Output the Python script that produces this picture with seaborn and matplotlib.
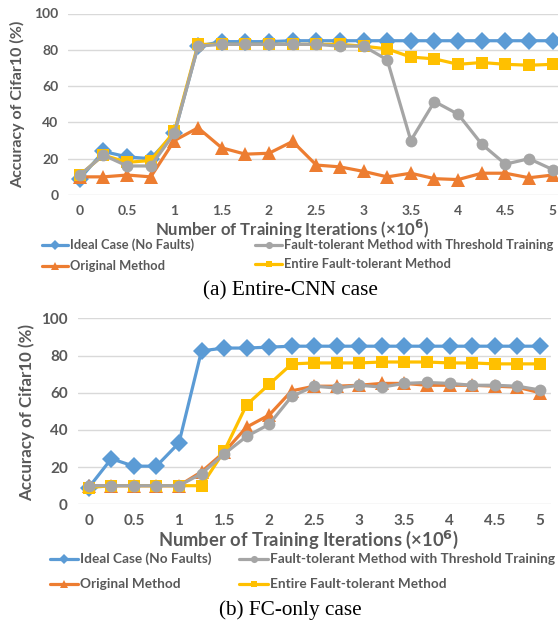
"""
Accuracy of Cifar10 vs training iterations, two fault cases.
"""

import numpy as np
import pandas as pd
import matplotlib
matplotlib.use("Agg")
import matplotlib.pyplot as plt
from matplotlib.lines import Line2D
import seaborn as sns

# Iterations (x10^6)
iterations = [0, 0.25, 0.5, 0.75, 1, 1.25, 1.5, 1.75, 2, 2.25, 2.5,
              2.75, 3, 3.25, 3.5, 3.75, 4, 4.25, 4.5, 4.75, 5]
x_ticks = [0, 0.5, 1, 1.5, 2, 2.5, 3, 3.5, 4, 4.5, 5]
x_tick_labels = ["0", "0.5", "1", "1.5", "2", "2.5", "3", "3.5", "4", "4.5", "5"]

series_names = ["Ideal Case (No Faults)", "Original Method",
                "Fault-tolerant Method with Threshold Training",
                "Entire Fault-tolerant Method"]

# (a) Entire-CNN case
cnn_ideal = [9, 24, 21, 20, 34, 82, 84.5, 84.5, 84.5, 85, 85,
             85, 85, 85, 85, 85, 85, 85, 85, 85, 85]
cnn_original = [10, 10, 11, 10, 30, 37, 26, 22.5, 23, 29.5, 16.5,
                15.5, 13, 10, 12, 9, 8.5, 12, 12, 9.5, 11]
cnn_threshold = [11, 22, 16, 16, 34, 82, 83, 83, 83, 83, 83,
                 82, 82, 74.5, 30, 51.5, 44.5, 28, 17, 20, 14]
cnn_entire = [11, 22, 18, 19, 35, 83, 83, 83, 83, 83, 83,
              83, 82, 80.5, 76, 75, 72, 73, 72, 71.5, 72]

# (b) FC-only case
fc_ideal = [9, 24.5, 20.5, 20.5, 33, 82.5, 84, 84, 84.5, 85, 85,
            85, 85, 85, 85, 85, 85, 85, 85, 85, 85]
fc_original = [10, 10, 10, 10, 10, 17.5, 28, 41.5, 48, 61, 63.5,
               63.5, 64, 65, 65, 64, 64, 64, 63.5, 63, 60]
fc_threshold = [10, 10, 10, 10, 10, 16.5, 27, 36.5, 43, 58, 63.5,
                62.5, 64, 63, 65, 65.5, 65, 64, 64, 63.5, 61.5]
fc_entire = [9, 10, 10, 10, 10, 10, 28.5, 53.5, 64.5, 75.5, 76,
             76, 76, 76.5, 76.5, 76.5, 76, 76, 75.5, 75.5, 75.5]

colors = {"Ideal Case (No Faults)": "#5B9BD5",
          "Original Method": "#ED7D31",
          "Fault-tolerant Method with Threshold Training": "#A5A5A5",
          "Entire Fault-tolerant Method": "#FFC000"}
markers = {"Ideal Case (No Faults)": ("D", 9),
           "Original Method": ("^", 9.5),
           "Fault-tolerant Method with Threshold Training": ("o", 8.5),
           "Entire Fault-tolerant Method": ("s", 8)}
draw_order = ["Ideal Case (No Faults)", "Original Method",
              "Entire Fault-tolerant Method",
              "Fault-tolerant Method with Threshold Training"]

TEXT = "#595959"
W, H = 558, 623

sns.set_theme(style="white")
plt.rcParams["font.family"] = ["Lato", "DejaVu Sans"]
plt.rcParams["mathtext.default"] = "bf"


def build_frame(ideal, original, threshold, entire):
    frames = []
    for name, vals in zip(series_names, [ideal, original, threshold, entire]):
        frames.append(pd.DataFrame({"iter": iterations, "acc": vals, "series": name}))
    return pd.concat(frames, ignore_index=True)


def draw_panel(ax, df, xmax, p):
    for name in draw_order:
        sub = df[df["series"] == name]
        m, ms = markers[name]
        sns.lineplot(data=sub, x="iter", y="acc", ax=ax, color=colors[name],
                     linewidth=2.3, marker=m, markersize=ms,
                     markeredgewidth=0, legend=False)
    ax.set_xlim(-0.125, xmax)
    ax.set_ylim(0, 100)
    ax.set_yticks([0, 20, 40, 60, 80, 100])
    ax.set_xticks(x_ticks)
    ax.set_xticklabels(x_tick_labels)
    ax.grid(axis="y", color="#D9D9D9", linewidth=1)
    ax.grid(axis="x", visible=False)
    for s in ax.spines.values():
        s.set_visible(False)
    ax.tick_params(axis="both", length=0, labelsize=p["tick"], labelcolor=TEXT, pad=7)
    for lab in ax.get_xticklabels() + ax.get_yticklabels():
        lab.set_fontweight("bold")
    ax.set_ylabel("Accuracy of Cifar10 (%)", fontsize=p["ylab"], fontweight="bold",
                  color=TEXT, va="center")
    ax.yaxis.set_label_coords(*p["ylab_xy"])
    ax.set_xlabel("Number of Training Iterations (×10$^{6}$)",
                  fontsize=p["xlab"], fontweight="bold", color=TEXT, va="center")
    ax.xaxis.set_label_coords(*p["xlab_xy"])


def legend_entry(name, x0, x1, y, fs):
    # handle line + small marker, then label, all in figure pixels
    m, ms = markers[name]
    fy = 1 - y / H
    fig.add_artist(Line2D([x0 / W, x1 / W], [fy, fy], transform=fig.transFigure,
                          color=colors[name], linewidth=2.3))
    fig.add_artist(Line2D([(x0 + x1) / 2 / W], [fy], transform=fig.transFigure,
                          color=colors[name], marker=m, markersize=ms * 0.6,
                          markeredgewidth=0, linestyle="none"))
    fig.text((x1 + 2) / W, fy, name, ha="left", va="center", fontsize=fs,
             fontweight="bold", color=TEXT)


fig = plt.figure(figsize=(W / 100, H / 100), dpi=100)
ax1 = fig.add_axes([68 / W, 428 / H, 490 / W, 181.5 / H])
ax2 = fig.add_axes([77.5 / W, 118.7 / H, 473.5 / W, 186 / H])

draw_panel(ax1, build_frame(cnn_ideal, cnn_original, cnn_threshold, cnn_entire), 5.056,
           {"tick": 10, "ylab": 11.5, "xlab": 12.1,
            "ylab_xy": (-0.102, 0.50), "xlab_xy": (0.458, -0.19)})
draw_panel(ax2, build_frame(fc_ideal, fc_original, fc_threshold, fc_entire), 5.125,
           {"tick": 11, "ylab": 12.2, "xlab": 13.2,
            "ylab_xy": (-0.107, 0.494), "xlab_xy": (0.488, -0.19)})

# legends, panel (a)
legend_entry(series_names[0], 42, 68, 245, 9.25)
legend_entry(series_names[1], 42, 68, 266, 9.25)
legend_entry(series_names[2], 255, 282, 245, 9.25)
legend_entry(series_names[3], 255, 282, 264, 9.25)
# legends, panel (b)
legend_entry(series_names[0], 50, 78, 559, 9.85)
legend_entry(series_names[1], 50, 78, 584, 9.85)
legend_entry(series_names[2], 239, 268, 559, 9.85)
legend_entry(series_names[3], 239, 268, 584, 9.85)

fig.text(290 / W, 1 - 291 / H, "(a) Entire-CNN case", ha="center", va="center",
         fontsize=15.3, family="Liberation Serif", color="black")
fig.text(290 / W, 1 - 610 / H, "(b) FC-only case", ha="center", va="center",
         fontsize=15.3, family="Liberation Serif", color="black")

fig.savefig("out.png", dpi=100)
